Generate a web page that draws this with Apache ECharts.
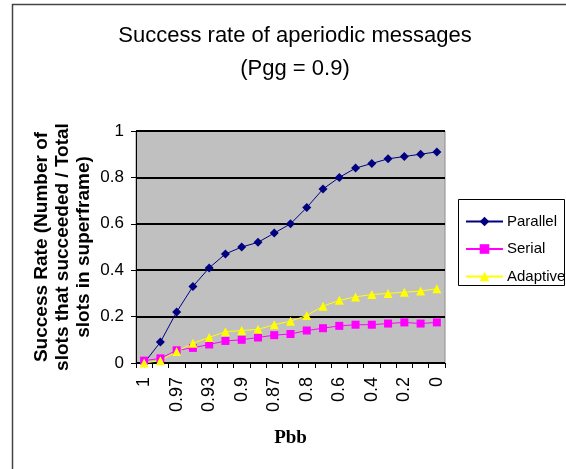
<!DOCTYPE html>
<html>
<head>
<meta charset="utf-8">
<script src="https://cdn.jsdelivr.net/npm/echarts@6/dist/echarts.min.js"></script>
<style>
  html, body { margin: 0; padding: 0; background: #ffffff; }
  #chart { width: 566px; height: 469px; }
</style>
</head>
<body>
<div id="chart"></div>
<script>
// Pbb values along the horizontal axis (every other one is labelled)
const pbbCategories = ['1', '0.98', '0.97', '0.95', '0.93', '0.92', '0.9', '0.88', '0.87', '0.85',
                       '0.8', '0.7', '0.6', '0.5', '0.4', '0.3', '0.2', '0.1', '0'];

// Success rate per scheduling scheme
const parallelRate = [0, 0.09, 0.22, 0.33, 0.41, 0.47, 0.50, 0.52, 0.56, 0.60,
                      0.67, 0.75, 0.80, 0.84, 0.86, 0.88, 0.89, 0.90, 0.91];
const serialRate   = [0.01, 0.02, 0.055, 0.065, 0.08, 0.095, 0.10, 0.11, 0.12, 0.125,
                      0.14, 0.15, 0.16, 0.165, 0.165, 0.17, 0.175, 0.17, 0.175];
const adaptiveRate = [0, 0.01, 0.05, 0.085, 0.11, 0.135, 0.14, 0.145, 0.165, 0.18,
                      0.205, 0.245, 0.27, 0.285, 0.295, 0.30, 0.305, 0.31, 0.32];

const yTicks = [0, 0.2, 0.4, 0.6, 0.8, 1];

const FONT = '"Liberation Sans", Arial, sans-serif';

const chart = echarts.init(document.getElementById('chart'), null, { renderer: 'canvas' });

chart.setOption({
  backgroundColor: '#ffffff',
  animation: false,
  textStyle: { fontFamily: FONT, color: '#000' },
  title: {
    text: 'Success rate of aperiodic messages\n(Pgg = 0.9)',
    left: 295,
    textAlign: 'center',
    top: 19,
    padding: 0,
    textStyle: {
      fontFamily: FONT,
      fontSize: 22,
      fontWeight: 'normal',
      lineHeight: 33,
      color: '#000'
    }
  },
  graphic: [
    {
      type: 'rect',
      z: 0,
      silent: true,
      shape: { x: 12.5, y: 4.5, width: 700, height: 700 },
      style: { fill: 'none', stroke: '#444', lineWidth: 1.5 }
    },
    {
      type: 'rect',
      z: 1,
      silent: true,
      shape: { x: 458.5, y: 199.5, width: 106, height: 86 },
      style: { fill: '#ffffff', stroke: '#000', lineWidth: 1 }
    }
  ],
  legend: {
    orient: 'vertical',
    left: 465,
    top: 214,
    z: 5,
    padding: 0,
    itemWidth: 37,
    itemHeight: 12,
    itemGap: 12.5,
    textStyle: { fontFamily: FONT, fontSize: 15, color: '#000', lineHeight: 14, padding: [0, 0, 0, -1] },
    data: ['Parallel', 'Serial', 'Adaptive']
  },
  grid: {
    left: 136,
    right: 121,
    top: 131,
    bottom: 106,
    show: true,
    backgroundColor: '#c0c0c0',
    borderColor: '#8c8c8c',
    borderWidth: 1,
    containLabel: false
  },
  xAxis: {
    type: 'category',
    data: pbbCategories,
    boundaryGap: true,
    name: 'Pbb',
    nameLocation: 'middle',
    nameGap: 66,
    nameMoveOverlap: false,
    nameTextStyle: {
      fontFamily: '"Liberation Serif", "Times New Roman", serif',
      fontWeight: 'bold',
      fontSize: 19,
      color: '#000'
    },
    axisLine: { lineStyle: { color: '#000', width: 1 } },
    axisTick: { show: true, interval: 0, length: 5, lineStyle: { color: '#000' } },
    axisLabel: {
      interval: 1,
      rotate: 90,
      margin: 14,
      fontFamily: FONT,
      fontSize: 18,
      color: '#000'
    },
    splitLine: { show: false }
  },
  yAxis: {
    type: 'value',
    min: yTicks[0],
    max: yTicks[yTicks.length - 1],
    interval: 0.2,
    name: 'Success Rate (Number of\nslots that succeeded / Total\nslots in superframe)',
    nameLocation: 'middle',
    nameRotate: 90,
    nameGap: 42,
    nameMoveOverlap: false,
    nameTextStyle: {
      fontFamily: FONT,
      fontWeight: 'bold',
      fontSize: 19,
      lineHeight: 21,
      align: 'center',
      color: '#000'
    },
    axisLine: { show: true, lineStyle: { color: '#000', width: 1 } },
    axisTick: { show: true, length: 5, lineStyle: { color: '#000' } },
    axisLabel: {
      margin: 12,
      padding: [6, 0, 0, 0],
      fontFamily: FONT,
      fontSize: 17,
      color: '#000',
      formatter: v => String(Math.round(v * 10) / 10)
    },
    splitLine: { show: true, lineStyle: { color: '#000', width: 2 } }
  },
  series: [
    {
      name: 'Parallel',
      type: 'line',
      data: parallelRate,
      symbol: 'diamond',
      symbolSize: 9,
      itemStyle: { color: '#000080' },
      lineStyle: { color: '#000080', width: 1 }
    },
    {
      name: 'Serial',
      type: 'line',
      data: serialRate,
      symbol: 'rect',
      symbolSize: 8,
      itemStyle: { color: '#ff00ff' },
      lineStyle: { color: '#ff00ff', width: 1 }
    },
    {
      name: 'Adaptive',
      type: 'line',
      data: adaptiveRate,
      symbol: 'triangle',
      symbolSize: 9,
      itemStyle: { color: '#ffff00' },
      lineStyle: { color: '#ffff00', width: 1 }
    }
  ]
});
</script>
</body>
</html>
